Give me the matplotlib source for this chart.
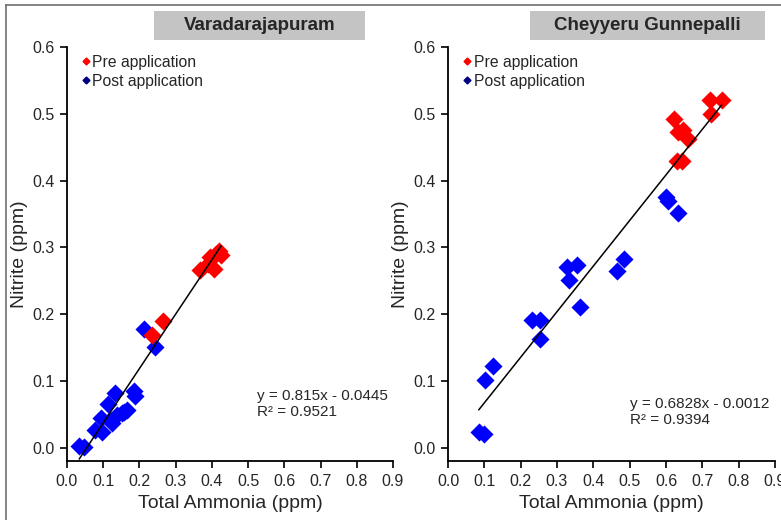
import numpy as np
import matplotlib
matplotlib.use("Agg")
import matplotlib.pyplot as plt
from matplotlib.lines import Line2D
from matplotlib.patches import Rectangle

plt.rcParams['font.family'] = ['Liberation Sans', 'DejaVu Sans']

# Varadarajapuram
v_pre_x = [0.235, 0.266, 0.367, 0.390, 0.395, 0.405, 0.410, 0.420, 0.425]
v_pre_y = [0.168, 0.190, 0.266, 0.275, 0.286, 0.268, 0.290, 0.295, 0.288]
v_post_x = [0.034, 0.046, 0.076, 0.098, 0.095, 0.112, 0.133, 0.124, 0.119,
            0.138, 0.152, 0.156, 0.165, 0.184, 0.187, 0.213, 0.243]
v_post_y = [0.002, 0.001, 0.027, 0.023, 0.044, 0.066, 0.082, 0.037, 0.042,
            0.049, 0.052, 0.053, 0.057, 0.085, 0.077, 0.178, 0.151]
v_fit = (0.815, -0.0445, 0.9521)

# Cheyyeru Gunnepalli
c_pre_x = [0.622, 0.634, 0.646, 0.661, 0.629, 0.643, 0.721, 0.723, 0.753]
c_pre_y = [0.492, 0.473, 0.476, 0.462, 0.430, 0.430, 0.520, 0.500, 0.520]
c_post_x = [0.085, 0.098, 0.101, 0.124, 0.231, 0.253, 0.254, 0.328, 0.332,
            0.355, 0.363, 0.466, 0.484, 0.600, 0.605, 0.634]
c_post_y = [0.023, 0.021, 0.101, 0.122, 0.191, 0.191, 0.162, 0.271, 0.251,
            0.273, 0.211, 0.264, 0.283, 0.375, 0.370, 0.351]
c_fit = (0.6828, -0.0012, 0.9394)

panels = [
    ("Varadarajapuram", v_pre_x, v_pre_y, v_post_x, v_post_y, v_fit),
    ("Cheyyeru Gunnepalli", c_pre_x, c_pre_y, c_post_x, c_post_y, c_fit),
]

W, H = 781, 520
fig = plt.figure(figsize=(W / 100, H / 100), dpi=100)
txt = '#262626'

# axes boxes in pixels: left, right (x=0.9), top (y=0.6), bottom (y=-0.02)
boxes = [(67, 393, 47, 461), (448, 775, 47, 461)]
title_boxes = [(154, 365, 11, 40), (530, 765, 11, 40)]
eq_pos = [(0.583, 0.138), (0.557, 0.118)]

for i, (name, px, py, qx, qy, fit) in enumerate(panels):
    l, r, t, b = boxes[i]
    ax = fig.add_axes([l / W, 1 - b / H, (r - l) / W, (b - t) / H])
    ax.scatter(qx, qy, marker='D', s=85, color='#0000ff', linewidths=0, zorder=3)
    ax.scatter(px, py, marker='D', s=85, color='#ff0000', linewidths=0, zorder=3)

    allx = np.array(px + qx)
    xs = np.array([allx.min(), allx.max()])
    ax.plot(xs, fit[0] * xs + fit[1], color='black', lw=1.1, zorder=4)

    ax.set_xlim(0, 0.9)
    ax.set_ylim(-0.02, 0.6)
    ax.set_xticks(np.arange(0, 0.91, 0.1))
    ax.set_yticks(np.arange(0, 0.61, 0.1))
    ax.xaxis.set_major_formatter(matplotlib.ticker.FormatStrFormatter('%.1f'))
    ax.yaxis.set_major_formatter(matplotlib.ticker.FormatStrFormatter('%.1f'))
    for s in ['top', 'right']:
        ax.spines[s].set_visible(False)
    for s in ['left', 'bottom']:
        ax.spines[s].set_linewidth(1.3)
    ax.spines['bottom'].set_bounds(0, 0.9)
    ax.tick_params(direction='out', length=5, width=1.2, labelsize=11.5,
                   labelcolor=txt, pad=4)
    ax.set_xlabel('Total Ammonia (ppm)', fontsize=14, color=txt, labelpad=5)
    ax.set_ylabel('Nitrite (ppm)', fontsize=14, color=txt, labelpad=3)

    sign = '-' if fit[1] < 0 else '+'
    ax.text(eq_pos[i][0], eq_pos[i][1],
            'y = %sx %s %s\nR² = %s' % (fit[0], sign, abs(fit[1]), fit[2]),
            transform=ax.transAxes, fontsize=11, color=txt, va='center',
            linespacing=1.2)

    handles = [Line2D([], [], ls='none', marker='D', ms=3.5, color='#ff0000'),
               Line2D([], [], ls='none', marker='D', ms=3.5, color='#000080')]
    ax.legend(handles, ['Pre application', 'Post application'],
              loc='upper left', bbox_to_anchor=(0.03, 0.996), frameon=False,
              fontsize=11.3, handlelength=0.4, handletextpad=0.2,
              labelspacing=0.25, borderaxespad=0, labelcolor=txt)

    x0, x1, y0, y1 = title_boxes[i]
    fig.patches.append(Rectangle((x0 / W, 1 - y1 / H), (x1 - x0) / W, (y1 - y0) / H,
                                 transform=fig.transFigure, facecolor='#c4c4c4',
                                 edgecolor='none'))
    fig.text((x0 + x1) / 2 / W, 1 - (y0 + y1) / 2 / H, name, ha='center',
             va='center', fontsize=13.5, fontweight='bold', color=txt)

# outer frame (top and left edges visible)
fig.add_artist(Line2D([6 / W, 6 / W], [0, 1 - 5 / H], transform=fig.transFigure,
                      color='#707070', lw=1.2))
fig.add_artist(Line2D([6 / W, 1], [1 - 5 / H, 1 - 5 / H], transform=fig.transFigure,
                      color='#707070', lw=1.2))

fig.savefig('out.png', dpi=100)
